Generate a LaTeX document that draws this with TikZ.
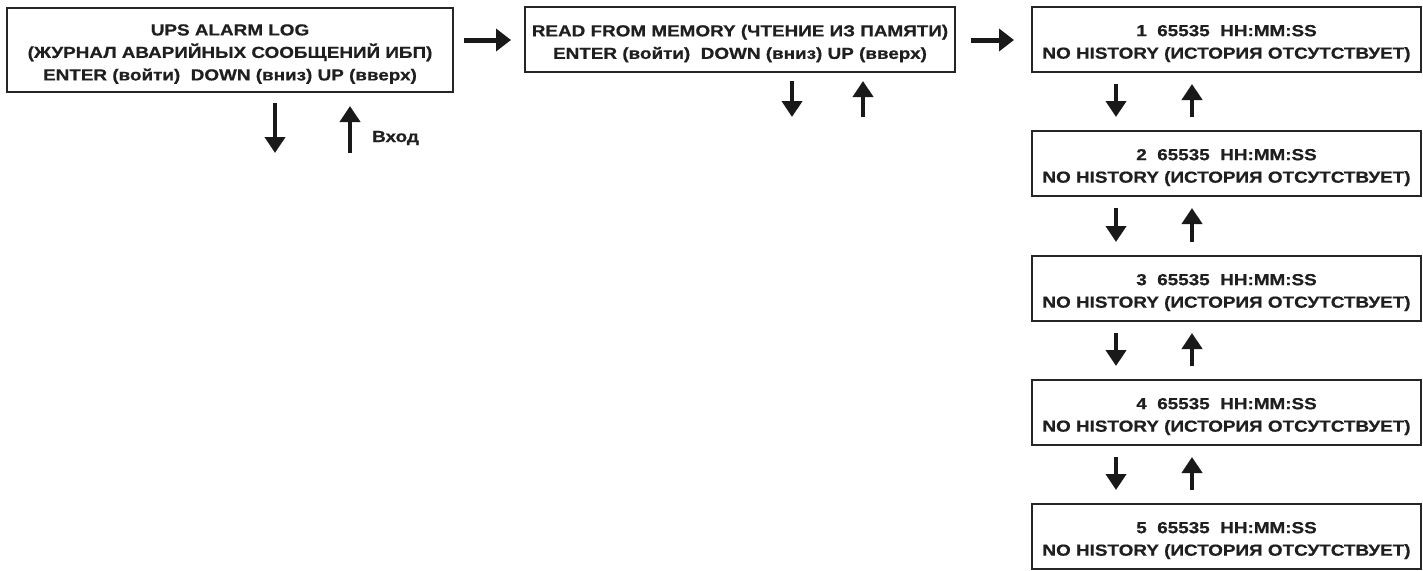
\documentclass[tikz,border=0pt]{standalone}
\usepackage{fontspec}
\setmainfont{Liberation Sans}
\newfontfamily\widefont{Liberation Sans}[FakeStretch=1.18,BoldFeatures={FakeBold=0.6}]
\usetikzlibrary{arrows.meta,calc}
\tikzset{
  x=1pt,y=-1pt,
  box/.style={draw=black!85,line width=2pt,inner sep=0pt},
  txt/.style={align=center,font=\widefont\fontsize{16}{22.5}\selectfont\bfseries,inner sep=0pt,text=black!88},
  varr/.style={line width=4pt,-{Triangle[width=20pt,length=16pt]},black!90},
  harr/.style={line width=5pt,-{Triangle[width=22pt,length=15pt]},black!90},
}
\begin{document}
\begin{tikzpicture}
\useasboundingbox (0,0) rectangle (1423,570);
% left box
\node[box,minimum width=446pt,minimum height=84pt] (b1) at (230,50) {};
\node[txt] (t1) at ([yshift=-4pt]b1.center) {UPS ALARM LOG\\(ЖУРНАЛ АВАРИЙНЫХ СООБЩЕНИЙ ИБП)\\ENTER (войти)\ \ DOWN (вниз) UP (вверх)};
% middle box
\node[box,minimum width=430pt,minimum height=65pt] (b2) at (740,39.5) {};
\node[txt] (t2) at ([yshift=-4pt]b2.center) {READ FROM MEMORY (ЧТЕНИЕ ИЗ ПАМЯТИ)\\ENTER (войти)\ \ DOWN (вниз) UP (вверх)};
% right column
\foreach \i/\y in {1/39.5,2/163.5,3/288.5,4/412.5,5/536.5}{
  \node[box,minimum width=389pt,minimum height=65pt] (r\i) at (1226.5,\y) {};
  \node[txt] (rt\i) at ([yshift=-4pt]r\i.center) {\i\ \ 65535\ \ HH:MM:SS\\NO HISTORY (ИСТОРИЯ ОТСУТСТВУЕТ)};
}
% horizontal connectors
\draw[harr] ([xshift=10pt]b1.east |- 0,40) -- ([xshift=-13pt]b2.west |- 0,40);
\draw[harr] ([xshift=15pt]b2.east |- 0,40) -- ([xshift=-17pt]r1.west |- 0,40);
% left box arrows
\coordinate (d1) at (275,153);
\coordinate (u1) at (350,153);
\draw[varr] ([yshift=-10pt]b1.south -| d1) -- (d1);
\draw[varr] (u1) -- ([yshift=-13pt]b1.south -| u1);
\node[txt,anchor=base west] (vh) at (372,142) {Вход};
% middle box arrows
\coordinate (d2) at (792,117);
\coordinate (u2) at (863,117);
\draw[varr] ([yshift=-8pt]b2.south -| d2) -- (d2);
\draw[varr] (u2) -- ([yshift=-8pt]b2.south -| u2);
% right column arrows
\foreach \a/\b in {1/2,2/3,3/4,4/5}{
  \draw[varr] ([yshift=-11pt]r\a.south -| 1116,0) -- ([yshift=13pt]r\b.north -| 1116,0);
  \draw[varr] ([yshift=13pt]r\b.north -| 1192,0) -- ([yshift=-11pt]r\a.south -| 1192,0);
}
\end{tikzpicture}
\end{document}
